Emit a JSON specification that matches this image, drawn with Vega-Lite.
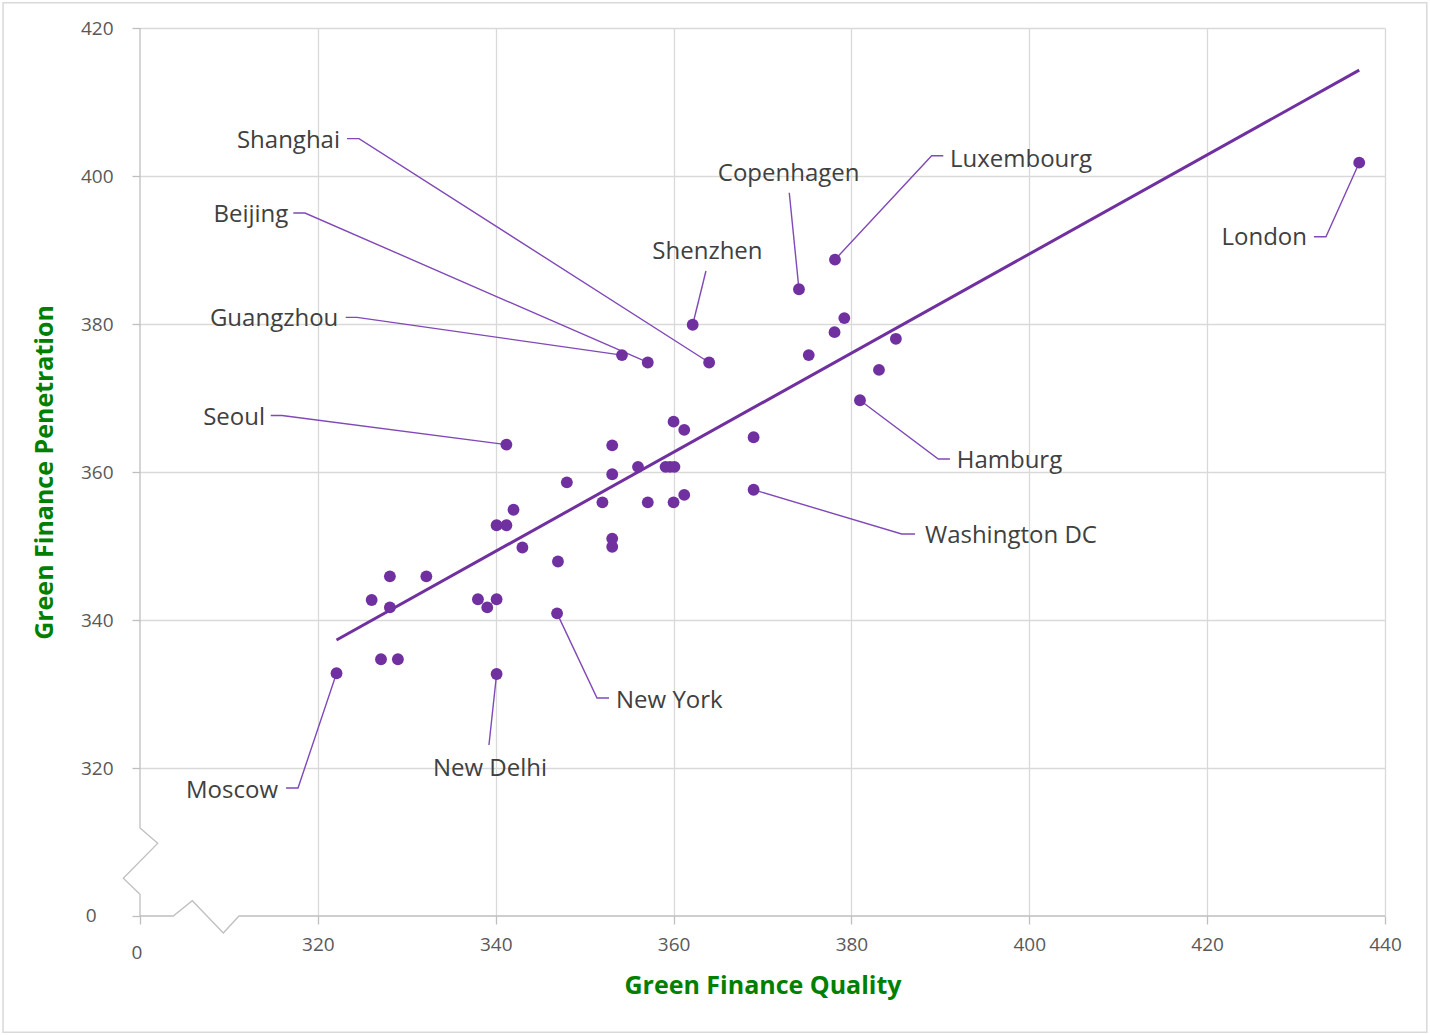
{
  "$schema": "https://vega.github.io/schema/vega-lite/v6.json",
  "width": 1245,
  "height": 888,
  "autosize": {"type": "none"},
  "padding": {"left": 140, "top": 28, "right": 45, "bottom": 119},
  "background": "white",
  "config": {"view": {"stroke": null}, "font": "Open Sans"},
  "datasets": {
    "cities": [
      {"city": "London", "quality": 437.1, "penetration": 401.8},
      {"city": "Luxembourg", "quality": 378.15, "penetration": 388.7},
      {"city": "Copenhagen", "quality": 374.1, "penetration": 384.7},
      {"city": "Shenzhen", "quality": 362.15, "penetration": 379.9},
      {"city": "Shanghai", "quality": 364, "penetration": 374.8},
      {"city": "Beijing", "quality": 357.1, "penetration": 374.8},
      {"city": "Guangzhou", "quality": 354.2, "penetration": 375.8},
      {"city": "Seoul", "quality": 341.2, "penetration": 363.7},
      {"city": "Hamburg", "quality": 380.96, "penetration": 369.7},
      {"city": "Washington DC", "quality": 369.0, "penetration": 357.6},
      {"city": "New York", "quality": 346.9, "penetration": 340.9},
      {"city": "New Delhi", "quality": 340.1, "penetration": 332.7},
      {"city": "Moscow", "quality": 322.1, "penetration": 332.8},
      {"city": "", "quality": 379.2, "penetration": 380.8},
      {"city": "", "quality": 378.1, "penetration": 378.9},
      {"city": "", "quality": 375.2, "penetration": 375.8},
      {"city": "", "quality": 385.0, "penetration": 378.0},
      {"city": "", "quality": 383.1, "penetration": 373.8},
      {"city": "", "quality": 369.0, "penetration": 364.7},
      {"city": "", "quality": 360.0, "penetration": 366.8},
      {"city": "", "quality": 361.2, "penetration": 365.7},
      {"city": "", "quality": 353.1, "penetration": 363.6},
      {"city": "", "quality": 353.1, "penetration": 359.7},
      {"city": "", "quality": 348.0, "penetration": 358.6},
      {"city": "", "quality": 356.0, "penetration": 360.7},
      {"city": "", "quality": 359.1, "penetration": 360.7},
      {"city": "", "quality": 359.6, "penetration": 360.7},
      {"city": "", "quality": 360.1, "penetration": 360.7},
      {"city": "", "quality": 361.2, "penetration": 356.9},
      {"city": "", "quality": 360.0, "penetration": 355.9},
      {"city": "", "quality": 357.1, "penetration": 355.9},
      {"city": "", "quality": 352.0, "penetration": 355.9},
      {"city": "", "quality": 342.0, "penetration": 354.9},
      {"city": "", "quality": 340.1, "penetration": 352.8},
      {"city": "", "quality": 341.2, "penetration": 352.8},
      {"city": "", "quality": 343.0, "penetration": 349.8},
      {"city": "", "quality": 353.1, "penetration": 351.0},
      {"city": "", "quality": 353.1, "penetration": 349.9},
      {"city": "", "quality": 347.0, "penetration": 347.9},
      {"city": "", "quality": 328.1, "penetration": 345.9},
      {"city": "", "quality": 332.2, "penetration": 345.9},
      {"city": "", "quality": 326.05, "penetration": 342.7},
      {"city": "", "quality": 328.1, "penetration": 341.7},
      {"city": "", "quality": 338.0, "penetration": 342.8},
      {"city": "", "quality": 339.05, "penetration": 341.7},
      {"city": "", "quality": 340.1, "penetration": 342.8},
      {"city": "", "quality": 327.1, "penetration": 334.7},
      {"city": "", "quality": 329.0, "penetration": 334.7}
    ],
    "trend": [
      {"quality": 322.1, "penetration": 337.3},
      {"quality": 437.1, "penetration": 414.3}
    ],
    "labels": [
      {"city": "Shanghai", "side": "left", "quality": 322.49, "penetration": 404.69},
      {"city": "Beijing", "side": "left", "quality": 316.68, "penetration": 394.78},
      {"city": "Guangzhou", "side": "left", "quality": 322.3, "penetration": 380.73},
      {"city": "Seoul", "side": "left", "quality": 314.06, "penetration": 367.3},
      {"city": "Moscow", "side": "left", "quality": 315.52, "penetration": 316.85},
      {"city": "London", "side": "left", "quality": 431.23, "penetration": 391.68},
      {"city": "Luxembourg", "side": "right", "quality": 391.08, "penetration": 402.2},
      {"city": "Hamburg", "side": "right", "quality": 391.84, "penetration": 361.5},
      {"city": "Washington DC", "side": "right", "quality": 388.27, "penetration": 351.31},
      {"city": "New York", "side": "right", "quality": 353.53, "penetration": 329.0},
      {"city": "Copenhagen", "side": "center", "quality": 372.94, "penetration": 400.26},
      {"city": "Shenzhen", "side": "center", "quality": 363.81, "penetration": 389.73},
      {"city": "New Delhi", "side": "center", "quality": 339.36, "penetration": 319.82}
    ],
    "zeroLabels": [
      {"axisName": "x", "text": "0", "quality": 299.66, "penetration": 295.0},
      {"axisName": "y", "text": "0", "quality": 294.5, "penetration": 300.0}
    ],
    "frame": [
      {"quality": 284.6, "quality2": 444.7, "penetration": 423.4, "penetration2": 284.3}
    ],
    "leaders": [
      {"city": "Shanghai", "i": 0, "quality": 323.28, "penetration": 405.05},
      {"city": "Shanghai", "i": 1, "quality": 324.63, "penetration": 405.05},
      {"city": "Shanghai", "i": 2, "quality": 364, "penetration": 374.8},
      {"city": "Beijing", "i": 0, "quality": 317.24, "penetration": 395.0},
      {"city": "Beijing", "i": 1, "quality": 318.55, "penetration": 395.0},
      {"city": "Beijing", "i": 2, "quality": 357.1, "penetration": 374.8},
      {"city": "Guangzhou", "i": 0, "quality": 323.13, "penetration": 380.9},
      {"city": "Guangzhou", "i": 1, "quality": 324.4, "penetration": 380.9},
      {"city": "Guangzhou", "i": 2, "quality": 354.2, "penetration": 375.8},
      {"city": "Seoul", "i": 0, "quality": 314.7, "penetration": 367.63},
      {"city": "Seoul", "i": 1, "quality": 315.97, "penetration": 367.63},
      {"city": "Seoul", "i": 2, "quality": 341.2, "penetration": 363.7},
      {"city": "Moscow", "i": 0, "quality": 316.42, "penetration": 317.3},
      {"city": "Moscow", "i": 1, "quality": 317.77, "penetration": 317.3},
      {"city": "Moscow", "i": 2, "quality": 322.1, "penetration": 332.8},
      {"city": "London", "i": 0, "quality": 432.01, "penetration": 391.8},
      {"city": "London", "i": 1, "quality": 433.36, "penetration": 391.8},
      {"city": "London", "i": 2, "quality": 437.1, "penetration": 401.8},
      {"city": "Luxembourg", "i": 0, "quality": 390.33, "penetration": 402.74},
      {"city": "Luxembourg", "i": 1, "quality": 389.02, "penetration": 402.74},
      {"city": "Luxembourg", "i": 2, "quality": 378.15, "penetration": 388.7},
      {"city": "Hamburg", "i": 0, "quality": 391.08, "penetration": 361.76},
      {"city": "Hamburg", "i": 1, "quality": 389.77, "penetration": 361.76},
      {"city": "Hamburg", "i": 2, "quality": 380.96, "penetration": 369.7},
      {"city": "Washington DC", "i": 0, "quality": 387.15, "penetration": 351.62},
      {"city": "Washington DC", "i": 1, "quality": 385.65, "penetration": 351.62},
      {"city": "Washington DC", "i": 2, "quality": 369.0, "penetration": 357.6},
      {"city": "New York", "i": 0, "quality": 352.74, "penetration": 329.46},
      {"city": "New York", "i": 1, "quality": 351.39, "penetration": 329.46},
      {"city": "New York", "i": 2, "quality": 346.9, "penetration": 340.9},
      {"city": "Copenhagen", "i": 0, "quality": 373.01, "penetration": 397.74},
      {"city": "Copenhagen", "i": 1, "quality": 374.1, "penetration": 384.7},
      {"city": "Shenzhen", "i": 0, "quality": 363.64, "penetration": 387.16},
      {"city": "Shenzhen", "i": 1, "quality": 362.15, "penetration": 379.9},
      {"city": "New Delhi", "i": 0, "quality": 339.24, "penetration": 323.11},
      {"city": "New Delhi", "i": 1, "quality": 340.1, "penetration": 332.7}
    ],
    "axisLines": [
      {"part": "y", "i": 0, "quality": 300, "penetration": 420},
      {"part": "y", "i": 1, "quality": 300, "penetration": 311.9},
      {"part": "y", "i": 2, "quality": 301.99, "penetration": 309.82},
      {"part": "y", "i": 3, "quality": 298.12, "penetration": 305.09},
      {"part": "y", "i": 4, "quality": 300, "penetration": 302.93},
      {"part": "y", "i": 5, "quality": 300, "penetration": 300},
      {"part": "x", "i": 0, "quality": 300, "penetration": 300},
      {"part": "x", "i": 1, "quality": 303.74, "penetration": 300},
      {"part": "x", "i": 2, "quality": 305.88, "penetration": 302.07},
      {"part": "x", "i": 3, "quality": 309.37, "penetration": 297.7},
      {"part": "x", "i": 4, "quality": 311.13, "penetration": 300},
      {"part": "x", "i": 5, "quality": 440, "penetration": 300}
    ]
  },
  "encoding": {
    "x": {
      "field": "quality", "type": "quantitative",
      "scale": {"domain": [300, 440], "nice": false, "zero": false},
      "axis": {
        "values": [300, 320, 340, 360, 380, 400, 420, 440],
        "labelExpr": "datum.value == 300 ? '' : datum.label",
        "title": "Green Finance Quality",
        "titleColor": "#008000", "titleFontSize": 25, "titleFontWeight": "bold", "titleFont": "Open Sans",
        "titlePadding": 19,
        "labelFont": "Open Sans", "labelFontSize": 19, "labelColor": "#595959",
        "labelPadding": 11,
        "labelFlush": false, "labelOverlap": false,
        "domain": false,
        "ticks": true, "tickColor": "#bfbfbf", "tickSize": 8, "tickWidth": 1.3,
        "grid": true, "gridColor": "#d9d9d9", "gridWidth": 1.3,
        "gridOpacity": {"condition": {"test": "datum.value == 300", "value": 0}, "value": 1}
      }
    },
    "y": {
      "field": "penetration", "type": "quantitative",
      "scale": {"domain": [300, 420], "nice": false, "zero": false},
      "axis": {
        "values": [300, 320, 340, 360, 380, 400, 420],
        "labelExpr": "datum.value == 300 ? '' : datum.label",
        "title": "Green Finance Penetration",
        "titleColor": "#008000", "titleFontSize": 25, "titleFontWeight": "bold", "titleFont": "Open Sans",
        "titlePadding": 23,
        "labelFont": "Open Sans", "labelFontSize": 19, "labelColor": "#595959",
        "labelPadding": 19,
        "labelFlush": false, "labelOverlap": false,
        "domain": false,
        "ticks": true, "tickColor": "#bfbfbf", "tickSize": 8, "tickWidth": 1.3,
        "grid": true, "gridColor": "#d9d9d9", "gridWidth": 1.3,
        "gridOpacity": {"condition": {"test": "datum.value == 300", "value": 0}, "value": 1}
      }
    }
  },
  "layer": [
    {
      "data": {"name": "frame"},
      "mark": {"type": "rect", "fillOpacity": 0, "stroke": "#d9d9d9", "strokeWidth": 1.5, "clip": false},
      "encoding": {
        "x2": {"field": "quality2"},
        "y2": {"field": "penetration2"}
      }
    },
    {
      "data": {"name": "axisLines"},
      "mark": {"type": "line", "color": "#bfbfbf", "strokeWidth": 1.3, "clip": false},
      "encoding": {
        "detail": {"field": "part"},
        "order": {"field": "i", "type": "quantitative"}
      }
    },
    {
      "data": {"name": "zeroLabels"},
      "mark": {"type": "text", "align": "center", "baseline": "middle", "font": "Open Sans", "fontSize": 19, "color": "#595959", "clip": false},
      "encoding": {
        "text": {"field": "text"}
      }
    },
    {
      "data": {"name": "trend"},
      "mark": {"type": "line", "color": "#7030A0", "strokeWidth": 3},
      "encoding": {}
    },
    {
      "data": {"name": "leaders"},
      "mark": {"type": "line", "color": "#8048b8", "strokeWidth": 1.4},
      "encoding": {
        "detail": {"field": "city"},
        "order": {"field": "i", "type": "quantitative"}
      }
    },
    {
      "data": {"name": "cities"},
      "mark": {"type": "circle", "size": 140, "opacity": 1, "color": "#7030A0"}
    },
    {
      "data": {"name": "labels"},
      "transform": [{"filter": "datum.side == 'left'"}],
      "mark": {"type": "text", "align": "right", "baseline": "middle", "font": "Open Sans", "fontSize": 24, "color": "#404040"},
      "encoding": {"text": {"field": "city"}}
    },
    {
      "data": {"name": "labels"},
      "transform": [{"filter": "datum.side == 'right'"}],
      "mark": {"type": "text", "align": "left", "baseline": "middle", "font": "Open Sans", "fontSize": 24, "color": "#404040"},
      "encoding": {"text": {"field": "city"}}
    },
    {
      "data": {"name": "labels"},
      "transform": [{"filter": "datum.side == 'center'"}],
      "mark": {"type": "text", "align": "center", "baseline": "middle", "font": "Open Sans", "fontSize": 24, "color": "#404040"},
      "encoding": {"text": {"field": "city"}}
    }
  ]
}
